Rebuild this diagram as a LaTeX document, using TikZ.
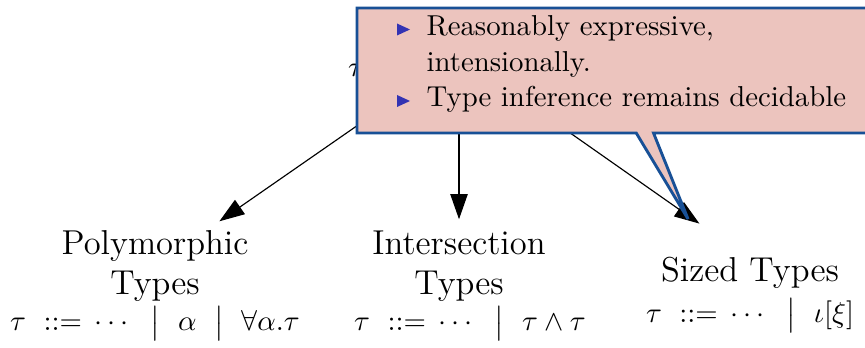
\documentclass[tikz,border=0pt]{standalone}
\usetikzlibrary{shapes.callouts,arrows.meta}

\definecolor{notefill}{RGB}{236,196,190}
\definecolor{noteline}{RGB}{24,80,150}
\definecolor{bulletblue}{RGB}{51,51,179}

% separator of grammar alternatives
\newcommand\bnfbar{\mskip 11mu\big|\mskip 11mu}

\begin{document}
\begin{tikzpicture}[x=0.3472pt, y=-0.3472pt,
  kind/.style={font=\large, align=center, inner xsep=4pt, inner ysep=1pt},
  rule/.style={inner sep=0pt, anchor=base},
  arr/.style={line width=0.4pt, -{Triangle[length=8.7pt,width=6pt]}},
  note/.style={rectangle callout, draw=noteline, fill=notefill, line width=1pt,
    minimum width=178.1pt, minimum height=43.4pt, inner sep=0pt,
    callout pointer width=6pt},
  item/.style={anchor=base west, inner sep=0pt},
  bullet/.style={fill=bulletblue}]

\useasboundingbox (0,0) rectangle (865,348);
\clip (0,0) rectangle (865,348);

% root of the type hierarchy
\node[anchor=base, inner sep=3pt, text height=15.3pt, text depth=0pt] (root) at (459,77)
  {\makebox[77pt][l]{$\tau$}};

% kinds of types
\node[kind] (poly)  at (155,266) {Polymorphic\\Types};
\node[kind] (inter) at (459,266) {Intersection\\Types};
\node[kind, anchor=base] (sized) at (750,282) {Sized Types};

% their grammars
\node[rule] (polyrule)  at (155,331) {$\tau \ ::= \,\cdots \bnfbar \alpha \bnfbar \forall\alpha.\tau$};
\node[rule] (interrule) at (470,331) {$\tau \ ::= \,\cdots \bnfbar \tau\wedge\tau$};
\node[rule] (sizedrule) at (750,323) {$\tau \ ::= \,\cdots \bnfbar \iota[\xi]$};

\draw[arr, shorten >=3.4pt] (root) -- (poly);
\draw[arr, shorten >=2.7pt] (root) -- (inter);
\draw[arr, shorten >=18.5pt] (root) -- (sized.110);

% remark on sized types
\coordinate (tip) at (688,219);
\node[note, callout absolute pointer={(tip)}] (note) at (613.5,70.5) {};

\fill[bullet] (397,23.5) -- (410,29.5) -- (397,35.5) -- cycle;
\node[item] (t1) at (426,36)  {Reasonably expressive,};
\node[item] (t2) at (426,72)  {intensionally.};
\fill[bullet] (397,95) -- (410,101) -- (397,107) -- cycle;
\node[item] (t3) at (426,107) {Type inference remains decidable};

\end{tikzpicture}
\end{document}
